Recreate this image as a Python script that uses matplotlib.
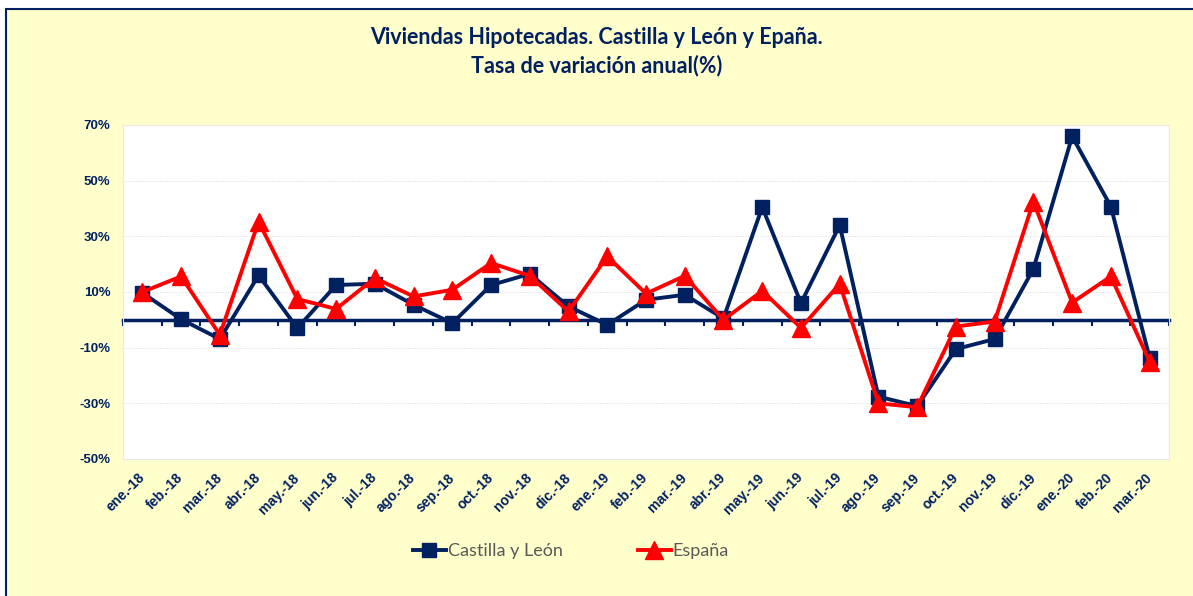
import matplotlib
matplotlib.use("Agg")
import matplotlib.pyplot as plt
from matplotlib.patches import Rectangle
from matplotlib.ticker import FuncFormatter
import numpy as np

meses = ["ene.-18", "feb.-18", "mar.-18", "abr.-18", "may.-18", "jun.-18",
         "jul.-18", "ago.-18", "sep.-18", "oct.-18", "nov.-18", "dic.-18",
         "ene.-19", "feb.-19", "mar.-19", "abr.-19", "may.-19", "jun.-19",
         "jul.-19", "ago.-19", "sep.-19", "oct.-19", "nov.-19", "dic.-19",
         "ene.-20", "feb.-20", "mar.-20"]

# tasas de variacion anual (%)
castilla_leon = [9.7, 0.2, -6.9, 16.0, -3.0, 12.5, 13.0, 5.4, -1.2, 12.5, 16.5, 4.8,
                 -1.8, 7.2, 9.0, 0.5, 40.5, 6.0, 34.0, -27.6, -31.0, -10.5, -6.9, 18.3,
                 65.9, 40.7, -13.7]
espana = [10.0, 15.6, -5.4, 35.3, 7.5, 3.9, 15.0, 8.4, 10.8, 20.4, 15.8, 3.0,
          22.8, 9.4, 15.8, 0.0, 10.4, -2.9, 12.9, -30.0, -31.4, -2.4, -0.6, 42.5,
          6.2, 15.6, -15.0]

NAVY = "#002060"
RED = "#FF0000"

fig = plt.figure(figsize=(11.93, 5.96), dpi=100, facecolor="white")
fondo = Rectangle((6 / 1193, -0.05), 1.1, 0.05 + (596 - 9) / 596,
                  transform=fig.transFigure, facecolor="#FFFFCC",
                  edgecolor=NAVY, linewidth=1.5, zorder=-10)
fig.patches.append(fondo)

ax = fig.add_axes([123 / 1193, 1 - 459 / 596, (1169 - 123) / 1193, (459 - 125) / 596])
ax.set_facecolor("white")

x = np.arange(len(meses))
ax.plot(x, castilla_leon, color=NAVY, lw=2.8, marker="s", ms=10,
        label="Castilla y León", zorder=3)
ax.plot(x, espana, color=RED, lw=2.8, marker="^", ms=13,
        label="España", zorder=4)

ax.set_xlim(-0.5, len(meses) - 0.5)
ax.set_ylim(-50, 70)
ax.set_yticks(np.arange(-50, 71, 20))
ax.yaxis.set_major_formatter(FuncFormatter(lambda v, p: f"{v:.0f}%"))
ax.grid(axis="y", color="#D9D9D9", lw=0.7, ls=(0, (1, 1.5)))
ax.tick_params(axis="y", length=0, pad=9, labelcolor=NAVY, labelsize=9.5)
for t in ax.get_yticklabels():
    t.set_fontweight("bold")
    t.set_fontfamily("Liberation Sans")

ax.set_xticks(x)
ax.set_xticklabels(meses, rotation=45, ha="right", va="center",
                   rotation_mode="anchor", fontsize=10, fontweight="bold",
                   color=NAVY, family="Liberation Sans")
ax.tick_params(axis="x", length=0, pad=12)
for s in ax.spines.values():
    s.set_color("#E8E8E8")
    s.set_linewidth(0.8)

# eje en el cero
cero = ax.secondary_xaxis(50 / 120)
cero.spines["bottom"].set_color(NAVY)
cero.spines["bottom"].set_linewidth(2.5)
cero.set_xticks(np.arange(-0.5, len(meses), 1))
cero.set_xticklabels([])
cero.tick_params(axis="x", length=4, width=1.5, color=NAVY, direction="out")

fig.text(0.5, 1 - 38 / 596, "Viviendas Hipotecadas. Castilla y León y Epaña.",
         ha="center", va="center", fontsize=15.5, fontweight="bold", color=NAVY,
         family="Lato")
fig.text(0.5, 1 - 66 / 596, "Tasa de variación anual(%)",
         ha="center", va="center", fontsize=15.5, fontweight="bold", color=NAVY,
         family="Lato")

leg = fig.legend(loc="center", bbox_to_anchor=(571 / 1193, 1 - 551 / 596), ncol=2,
                 frameon=False, columnspacing=4.2, handlelength=1.8, handletextpad=0.1,
                 prop={"family": "Lato", "size": 13})
for t in leg.get_texts():
    t.set_color("#595959")

fig.savefig("out.png", dpi=100, facecolor=fig.get_facecolor())
